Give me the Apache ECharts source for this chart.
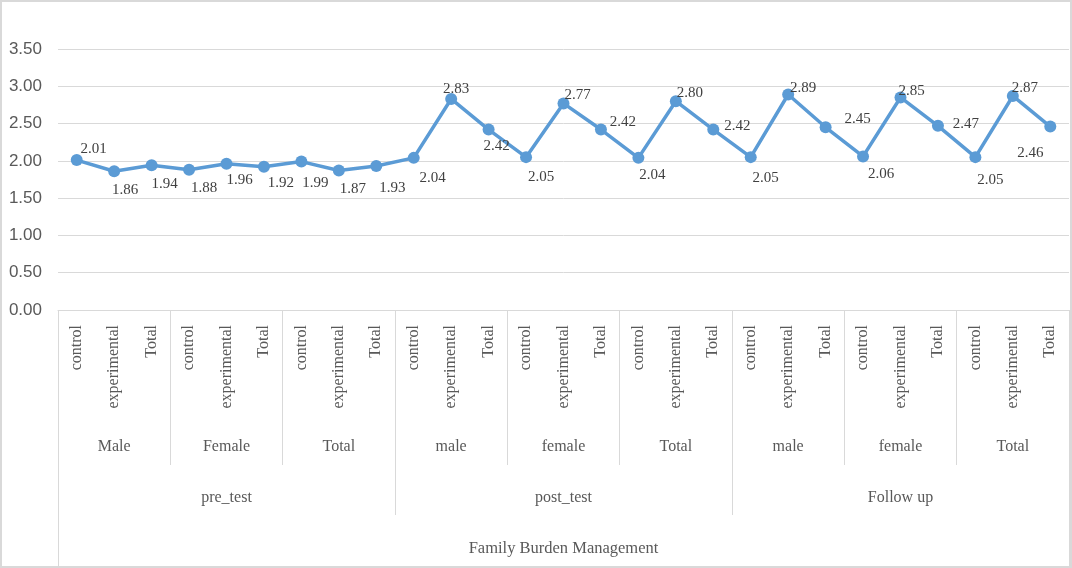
<!DOCTYPE html>
<html>
<head>
<meta charset="utf-8">
<script src="https://cdn.jsdelivr.net/npm/echarts@6/dist/echarts.min.js"></script>
<style>
html,body{margin:0;padding:0;background:#fff;}
#wrap{position:relative;width:1072px;height:568px;}
#chart{position:absolute;left:0;top:0;width:1072px;height:568px;}
#frame{position:absolute;left:0;top:0;width:1072px;height:568px;box-sizing:border-box;border:2px solid #d9d9d9;pointer-events:none;}
</style>
</head>
<body>
<div id="wrap"><div id="chart"></div><div id="frame"></div></div>
<script>
// ---- data ----
const groupLabels = ['control', 'experimental', 'Total'];
const genderLabels = ['Male', 'Female', 'Total', 'male', 'female', 'Total', 'male', 'female', 'Total'];
const phaseLabels = ['pre_test', 'post_test', 'Follow up'];
const measureLabels = ['Family Burden Management'];
const values = [2.01, 1.86, 1.94, 1.88, 1.96, 1.92, 1.99, 1.87, 1.93,
                2.04, 2.83, 2.42, 2.05, 2.77, 2.42, 2.04, 2.80, 2.42,
                2.05, 2.89, 2.45, 2.06, 2.85, 2.47, 2.05, 2.87, 2.46];
const yTicks = [0, 0.5, 1, 1.5, 2, 2.5, 3, 3.5];

// ---- label placement (style, kept apart from data) ----
const labelNudge = [
  [17,-11],[11,19],[13,19],[15,18],[13,16],[17,16],[14,21],[14,19],[16,22],
  [19,20],[5,-10],[8,17],[15,20],[14,-8],[22,-7],[14,17],[14,-8],[24,-3],
  [15,21],[15,-6],[32,-8],[18,18],[11,-6],[28,-2],[15,23],[12,-8],[-20,27]
];

const categories = [];
for (let g = 0; g < genderLabels.length; g++) {
  for (let k = 0; k < groupLabels.length; k++) categories.push(groupLabels[k]);
}

const serif = '"Liberation Serif","Times New Roman",serif';
const gridColor = '#d9d9d9';
const txt = '#595959';

function levelAxis(data, tickLen, margin, size) {
  return {
    type: 'category', gridIndex: 0, position: 'bottom', offset: 0,
    data: data, boundaryGap: true,
    axisLine: {show: false},
    axisTick: {show: true, length: tickLen, interval: 0, lineStyle: {color: gridColor, width: 1}},
    axisLabel: {interval: 0, margin: margin, color: txt, fontFamily: serif, fontSize: size, verticalAlign: 'middle'},
    splitLine: {show: false}
  };
}

const chart = echarts.init(document.getElementById('chart'));
chart.setOption({
  animation: false,
  grid: {left: 58, right: 3, top: 49, bottom: 258, containLabel: false},
  xAxis: [
    {
      type: 'category', data: categories, boundaryGap: true,
      axisLine: {show: true, lineStyle: {color: gridColor, width: 1}},
      axisTick: {show: false},
      axisLabel: {interval: 0, rotate: 90, margin: 15, color: txt, fontFamily: serif, fontSize: 16},
      splitLine: {show: false}
    },
    levelAxis(genderLabels, 155, 137, 16),
    levelAxis(phaseLabels, 205, 188, 16),
    levelAxis(measureLabels, 258, 239, 16.5)
  ],
  yAxis: {
    type: 'value', min: yTicks[0], max: yTicks[yTicks.length - 1], interval: 0.5,
    axisLine: {show: false}, axisTick: {show: false},
    axisLabel: {margin: 16, color: txt, fontFamily: '"Liberation Sans","Open Sans",sans-serif', fontSize: 17,
                formatter: v => v.toFixed(2)},
    splitLine: {lineStyle: {color: gridColor, width: 1}}
  },
  series: [{
    type: 'line', xAxisIndex: 0,
    data: values.map((v, i) => ({
      value: v,
      label: {show: true, position: 'inside', offset: labelNudge[i]}
    })),
    symbol: 'circle', symbolSize: 12,
    lineStyle: {color: '#5b9bd5', width: 3.5},
    itemStyle: {color: '#5b9bd5'},
    label: {show: true, color: '#404040', fontFamily: serif, fontSize: 15,
            formatter: p => p.value.toFixed(2)}
  }]
});
</script>
</body>
</html>
